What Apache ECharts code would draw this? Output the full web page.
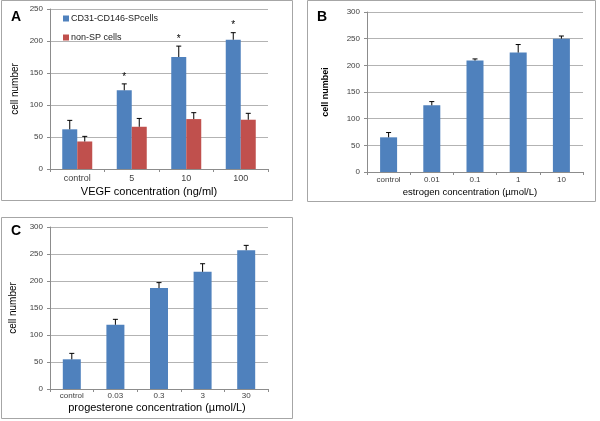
<!DOCTYPE html>
<html>
<head>
<meta charset="utf-8">
<script src="https://cdn.jsdelivr.net/npm/echarts@6/dist/echarts.min.js"></script>
<style>
html,body{margin:0;padding:0;background:#fff;}
#chart{width:600px;height:421px;}
</style>
</head>
<body>
<div id="chart"></div>
<script>
// ---------- data ----------
var catsA = ['control', '5', '10', '100'];
var spCellsA = [62, 123, 175, 202];
var spCellsSdA = [14, 10, 17, 11];
var nonSpCellsA = [43, 66, 78, 77];
var nonSpCellsSdA = [8, 13, 10, 10];
var sigA = ['', '*', '*', '*'];
var yTicksA = [0, 50, 100, 150, 200, 250];

var catsB = ['control', '0.01', '0.1', '1', '10'];
var estrogenB = [65, 125, 209, 224, 250];
var estrogenSdB = [9, 7, 3, 15, 5];
var yTicksB = [0, 50, 100, 150, 200, 250, 300];

var catsC = ['control', '0.03', '0.3', '3', '30'];
var progC = [55, 119, 187, 217, 257];
var progSdC = [11, 10, 10, 15, 9];
var yTicksC = [0, 50, 100, 150, 200, 250, 300];

// ---------- styles ----------
var BLUE = '#4F81BD', RED = '#C0504D';
var FONT = '"Liberation Sans", Arial, sans-serif';
var GRIDC = '#b3b3b3', AXISC = '#8c8c8c', TXT = '#404040';

function errData(means, sds, sig) {
  return means.map(function (m, i) { return [i, m + sds[i], m, sig ? sig[i] : '']; });
}
function errRender(offset) {
  return function (params, api) {
    var i = api.value(0);
    var top = api.coord([i, api.value(1)]);
    var base = api.coord([i, api.value(2)]);
    var x = top[0] + offset;
    var children = [
      { type: 'line', shape: { x1: x, y1: base[1], x2: x, y2: top[1] }, style: { stroke: '#000', lineWidth: 1 } },
      { type: 'line', shape: { x1: x - 2.5, y1: top[1], x2: x + 2.5, y2: top[1] }, style: { stroke: '#000', lineWidth: 1 } }
    ];
    var s = api.value(3);
    if (s && s !== '' && s !== '-') {
      children.push({ type: 'text', style: { text: String(s), x: x, y: top[1] - 2, align: 'center', verticalAlign: 'bottom', fontSize: 10, fontFamily: FONT, fill: '#000' } });
    }
    return { type: 'group', children: children };
  };
}
function yAx(gi, ticks, name, gap, bold, fs) {
  return {
    type: 'value', gridIndex: gi, min: ticks[0], max: ticks[ticks.length - 1], interval: ticks[1] - ticks[0],
    name: name, nameLocation: 'middle', nameGap: gap, nameRotate: 90,
    nameTextStyle: { fontFamily: FONT, fontSize: fs, color: '#000', fontWeight: bold ? 'bold' : 'normal' },
    axisLine: { show: true, lineStyle: { color: AXISC, width: 1 } },
    axisTick: { show: true, length: 3, lineStyle: { color: AXISC } },
    axisLabel: { fontFamily: FONT, fontSize: 8, color: TXT, margin: 7 },
    splitLine: { show: true, lineStyle: { color: GRIDC, width: 1 } }
  };
}
function xAx(gi, cats, name, gap, fs, lfs, lmargin, padRight) {
  return {
    type: 'category', gridIndex: gi, data: cats,
    name: name, nameLocation: 'middle', nameGap: gap,
    nameTextStyle: { fontFamily: FONT, fontSize: fs, color: '#000', padding: [0, padRight, 0, 0] },
    axisLine: { show: true, lineStyle: { color: AXISC, width: 1 } },
    axisTick: { show: true, length: 3, lineStyle: { color: AXISC } },
    axisLabel: { fontFamily: FONT, fontSize: lfs, color: TXT, margin: lmargin, interval: 0 },
    splitLine: { show: false }
  };
}

var chart = echarts.init(document.getElementById('chart'), null, { renderer: 'canvas' });
var option = {
  animation: false,
  backgroundColor: '#fff',
  title: [
    { text: 'A', left: 6, top: 5, textStyle: { fontFamily: FONT, fontSize: 14, fontWeight: 'bold', color: '#000' } },
    { text: 'B', left: 312, top: 5, textStyle: { fontFamily: FONT, fontSize: 14, fontWeight: 'bold', color: '#000' } },
    { text: 'C', left: 6, top: 219, textStyle: { fontFamily: FONT, fontSize: 14, fontWeight: 'bold', color: '#000' } }
  ],
  graphic: [
    { type: 'rect', shape: { x: 1.5, y: 0.5, width: 291, height: 200 }, style: { fill: 'none', stroke: '#a6a6a6', lineWidth: 1 }, z: -1 },
    { type: 'rect', shape: { x: 307.5, y: 0.5, width: 288, height: 201 }, style: { fill: 'none', stroke: '#a6a6a6', lineWidth: 1 }, z: -1 },
    { type: 'rect', shape: { x: 1.5, y: 217.5, width: 291, height: 201 }, style: { fill: 'none', stroke: '#a6a6a6', lineWidth: 1 }, z: -1 }
  ],
  legend: {
    data: ['CD31-CD146-SPcells', 'non-SP cells'],
    orient: 'vertical', left: 58, top: 8, itemGap: 8, itemWidth: 6, itemHeight: 6,
    icon: 'rect',
    textStyle: { fontFamily: FONT, fontSize: 9, color: '#222', padding: [0, 0, 0, -3], lineHeight: 11 }
  },
  grid: [
    { left: 50, top: 9, width: 218, height: 160 },
    { left: 367, top: 12, width: 216, height: 160 },
    { left: 50, top: 227, width: 218, height: 162 }
  ],
  xAxis: [
    xAx(0, catsA, 'VEGF concentration (ng/ml)', 17, 11, 9, 5, 20),
    xAx(1, catsB, 'estrogen concentration (\u00b5mol/L)', 15, 9.5, 8, 4, 10),
    xAx(2, catsC, 'progesterone concentration (\u00b5mol/L)', 13, 11, 8, 3, 4)
  ],
  yAxis: [
    yAx(0, yTicksA, 'cell number', 30, false, 10),
    yAx(1, yTicksB, 'cell numbei', 37, true, 9),
    yAx(2, yTicksC, 'cell number', 32, false, 10)
  ],
  series: [
    { name: 'CD31-CD146-SPcells', type: 'bar', xAxisIndex: 0, yAxisIndex: 0, data: spCellsA, barWidth: 15, barGap: '0%', itemStyle: { color: BLUE } },
    { name: 'non-SP cells', type: 'bar', xAxisIndex: 0, yAxisIndex: 0, data: nonSpCellsA, barWidth: 15, barGap: '0%', itemStyle: { color: RED } },
    { type: 'custom', xAxisIndex: 0, yAxisIndex: 0, renderItem: errRender(-7.5), data: errData(spCellsA, spCellsSdA, sigA), encode: { x: 0, y: [1, 2] }, z: 5 },
    { type: 'custom', xAxisIndex: 0, yAxisIndex: 0, renderItem: errRender(7.5), data: errData(nonSpCellsA, nonSpCellsSdA), encode: { x: 0, y: [1, 2] }, z: 5 },
    { name: 'estrogen', type: 'bar', xAxisIndex: 1, yAxisIndex: 1, data: estrogenB, barWidth: 17, itemStyle: { color: BLUE } },
    { type: 'custom', xAxisIndex: 1, yAxisIndex: 1, renderItem: errRender(0), data: errData(estrogenB, estrogenSdB), encode: { x: 0, y: [1, 2] }, z: 5 },
    { name: 'progesterone', type: 'bar', xAxisIndex: 2, yAxisIndex: 2, data: progC, barWidth: 18, itemStyle: { color: BLUE } },
    { type: 'custom', xAxisIndex: 2, yAxisIndex: 2, renderItem: errRender(0), data: errData(progC, progSdC), encode: { x: 0, y: [1, 2] }, z: 5 }
  ]
};
chart.setOption(option);
</script>
</body>
</html>
